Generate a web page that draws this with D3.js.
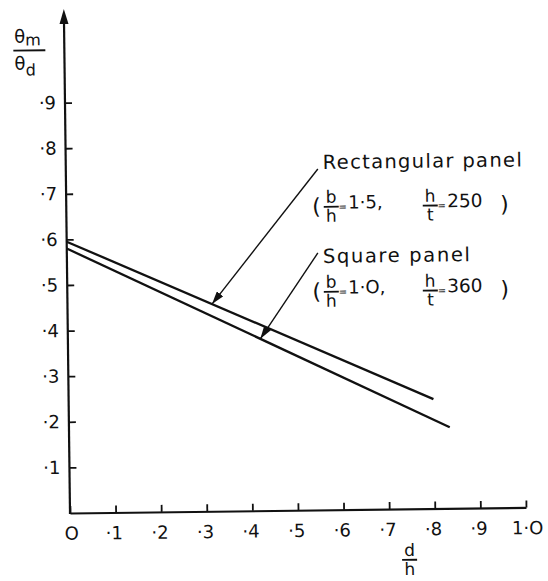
<!DOCTYPE html>
<html>
<head>
<meta charset="utf-8">
<script src="https://cdn.jsdelivr.net/npm/d3@7"></script>
<style>
  html, body { margin: 0; padding: 0; background: #fff; }
  svg { display: block; font-family: "DejaVu Sans", sans-serif; }
</style>
</head>
<body>
<svg width="548" height="581"></svg>
<script>
// tick values and their labels
const xTicks = [0, 0.1, 0.2, 0.3, 0.4, 0.5, 0.6, 0.7, 0.8, 0.9, 1.0];
const xTickLabels = ["O", "·1", "·2", "·3", "·4", "·5", "·6", "·7", "·8", "·9", "1·O"];
const yTicks = [0.1, 0.2, 0.3, 0.4, 0.5, 0.6, 0.7, 0.8, 0.9];
const yTickLabels = ["·1", "·2", "·3", "·4", "·5", "·6", "·7", "·8", "·9"];

// series
const seriesNames = ["Rectangular panel", "Square panel"];
const seriesBH = ["1·5", "1·O"];
const seriesHT = ["250", "360"];
const seriesDH = [[0, 0.8], [0, 0.835]];
const seriesTheta = [[0.595, 0.24], [0.58, 0.178]];
// d/h where each label arrow meets its line
const arrowAtDH = [0.317, 0.422];

const svg = d3.select("svg");
const root = svg.append("g").attr("transform", "rotate(-0.7, 70, 513)");

const x = d3.scaleLinear().domain([0, 1]).range([70, 526]);
const y = d3.scaleLinear().domain([0, 1]).range([513, 57]);

// arrow marker
svg.append("defs")
  .append("marker")
  .attr("id", "head")
  .attr("markerUnits", "userSpaceOnUse")
  .attr("viewBox", "0 0 13 8")
  .attr("refX", 13)
  .attr("refY", 4)
  .attr("markerWidth", 13)
  .attr("markerHeight", 8)
  .attr("orient", "auto")
  .append("path")
  .attr("d", "M0,0 L13,4 L0,8 Z")
  .attr("fill", "#111");

// x axis
const xAxis = d3.axisBottom(x)
  .tickValues(xTicks)
  .tickSizeInner(-7)
  .tickSizeOuter(0)
  .tickPadding(14)
  .tickFormat((d, i) => xTickLabels[i]);
const gx = root.append("g")
  .attr("transform", `translate(0, ${y(0)})`)
  .call(xAxis);
gx.select(".domain").attr("stroke", "#111").attr("stroke-width", 2.2);
gx.selectAll(".tick line").attr("stroke", "#111").attr("stroke-width", 1.8);
gx.selectAll(".tick text")
  .attr("font-family", "DejaVu Sans")
  .attr("font-size", 18)
  .attr("fill", "#111")
  .attr("dx", (d, i) => (i === 0 || i === xTicks.length - 1 ? 1 : -2));

// y axis
const yAxis = d3.axisLeft(y)
  .tickValues(yTicks)
  .tickSizeInner(-7)
  .tickSizeOuter(0)
  .tickPadding(9)
  .tickFormat((d, i) => yTickLabels[i]);
const gy = root.append("g")
  .attr("transform", `translate(${x(0)}, 0)`)
  .call(yAxis);
gy.select(".domain").remove();
gy.selectAll(".tick line").attr("stroke", "#111").attr("stroke-width", 1.8);
gy.selectAll(".tick text")
  .attr("font-family", "DejaVu Sans")
  .attr("font-size", 18)
  .attr("fill", "#111");

// y axis line with arrow
root.append("line")
  .attr("x1", x(0)).attr("y1", y(0) + 1)
  .attr("x2", x(0)).attr("y2", 22)
  .attr("stroke", "#111")
  .attr("stroke-width", 2.2);
root.append("path")
  .attr("d", `M${x(0)},9 L${x(0) + 4.5},24 L${x(0) - 4.5},24 Z`)
  .attr("fill", "#111");

// y title
const yt = root.append("g").attr("fill", "#111");
yt.append("text").attr("x", 20).attr("y", 42).attr("font-size", 18)
  .text("θ").append("tspan").attr("dy", 3).attr("font-size", 16).text("m");
yt.append("line").attr("x1", 19).attr("x2", 51).attr("y1", 50).attr("y2", 50)
  .attr("stroke", "#111").attr("stroke-width", 1.8);
yt.append("text").attr("x", 20).attr("y", 69).attr("font-size", 18)
  .text("θ").append("tspan").attr("dy", 6).attr("font-size", 16).text("d");

// x title
fraction(root, 409, 564, "d", "h");

// lines
const line = d3.line().x(d => x(d[0])).y(d => y(d[1]));
seriesNames.forEach((name, i) => {
  const pts = seriesDH[i].map((d, j) => [d, seriesTheta[i][j]]);
  root.append("path")
    .attr("d", line(pts))
    .attr("fill", "none")
    .attr("stroke", "#111")
    .attr("stroke-width", 2.3);
});

// labels with leader arrows
const labelLayout = [
  { top: [322, 172], tx: 327, ty: 172, w: 199, px: 316, py: 210 },
  { top: [321, 256], tx: 326, ty: 266, w: 147, px: 315, py: 295 }
];
seriesNames.forEach((name, i) => {
  const L = labelLayout[i];
  const d0 = seriesDH[i], t0 = seriesTheta[i];
  const a = arrowAtDH[i];
  const theta = t0[0] + (t0[1] - t0[0]) * (a - d0[0]) / (d0[1] - d0[0]);
  root.append("line")
    .attr("x1", L.top[0]).attr("y1", L.top[1])
    .attr("x2", x(a)).attr("y2", y(theta))
    .attr("stroke", "#111")
    .attr("stroke-width", 1.4)
    .attr("marker-end", "url(#head)");
  root.append("text")
    .attr("x", L.tx).attr("y", L.ty)
    .attr("font-size", 19.5)
    .attr("fill", "#111")
    .attr("textLength", L.w)
    .attr("lengthAdjust", "spacing")
    .text(name);
  paramLine(root, L.px, L.py, seriesBH[i], seriesHT[i]);
});

/********************************************************************/
// helpers
/********************************************************************/
function fraction(g, cx, by, top, bottom) {
  g.append("text").attr("x", cx).attr("y", by - 4)
    .attr("text-anchor", "middle").attr("font-size", 17).attr("fill", "#111")
    .text(top);
  g.append("line").attr("x1", cx - 7.5).attr("x2", cx + 7.5)
    .attr("y1", by).attr("y2", by)
    .attr("stroke", "#111").attr("stroke-width", 1.8);
  g.append("text").attr("x", cx).attr("y", by + 15)
    .attr("text-anchor", "middle").attr("font-size", 17).attr("fill", "#111")
    .text(bottom);
}

function paramLine(g, px, by, bh, ht) {
  const txt = (tx, ty, s, size, anchor) =>
    g.append("text").attr("x", tx).attr("y", ty)
      .attr("font-size", size).attr("fill", "#111")
      .attr("text-anchor", anchor || "start").text(s);
  txt(px, by + 7, "(", 22);
  fraction(g, px + 19, by, "b", "h");
  txt(px + 30.5, by + 3.5, "=", 10, "middle");
  txt(px + 36, by + 2, bh + ",", 18);
  fraction(g, px + 118, by, "h", "t");
  txt(px + 129.5, by + 3.5, "=", 10, "middle");
  txt(px + 135, by + 2, ht, 18.5);
  txt(px + 188, by + 7, ")", 22);
}
</script>
</body>
</html>
